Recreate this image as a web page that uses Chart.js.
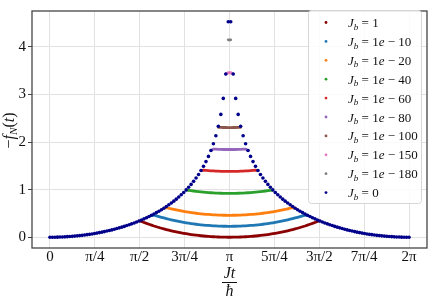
<!DOCTYPE html>
<html>
<head>
<meta charset="utf-8">
<script src="https://cdn.jsdelivr.net/npm/chart.js@4.4.0/dist/chart.umd.min.js"></script>
<style>
  html, body { margin: 0; padding: 0; background: #fff; }
</style>
</head>
<body>
<canvas id="chart" width="431" height="299"></canvas>
<script>
// ---------- data ----------
// x is the sample index of Jt/hbar on [0, 2pi] (146 samples, index 0..145)
const N_STEPS = 145;
const xTickLabels = ['0', 'π/4', 'π/2', '3π/4', 'π', '5π/4', '3π/2', '7π/4', '2π'];
const yTicks = [0, 1, 2, 3, 4];

const legendValues = ['1', '1e-10', '1e-20', '1e-40', '1e-60', '1e-80', '1e-100', '1e-150', '1e-180', '0'];
const seriesColors = ['#8b0000', '#1f77b4', '#ff7f0e', '#2ca02c', '#d62728', '#9467bd', '#8c564b', '#e377c2', '#7f7f7f', '#00008b'];

// J_b = 0, every sample
const jb0 = [
  0.000, 0.000, 0.001, 0.002, 0.004, 0.006, 0.008, 0.012, 0.015, 0.019,
  0.024, 0.029, 0.034, 0.040, 0.047, 0.054, 0.061, 0.069, 0.078, 0.087,
  0.097, 0.107, 0.118, 0.130, 0.142, 0.154, 0.168, 0.182, 0.197, 0.212,
  0.228, 0.245, 0.262, 0.281, 0.300, 0.320, 0.341, 0.363, 0.386, 0.410,
  0.435, 0.461, 0.488, 0.517, 0.546, 0.578, 0.610, 0.645, 0.681, 0.719,
  0.758, 0.800, 0.845, 0.892, 0.941, 0.994, 1.050, 1.110, 1.174, 1.244,
  1.319, 1.400, 1.489, 1.588, 1.698, 1.822, 1.964, 2.130, 2.330, 2.580,
  2.916, 3.427, 4.525,
  4.525, 3.427, 2.916,
  2.580, 2.330, 2.130, 1.964, 1.822, 1.698, 1.588, 1.489, 1.400, 1.319,
  1.244, 1.174, 1.110, 1.050, 0.994, 0.941, 0.892, 0.845, 0.800, 0.758,
  0.719, 0.681, 0.645, 0.610, 0.578, 0.546, 0.517, 0.488, 0.461, 0.435,
  0.410, 0.386, 0.363, 0.341, 0.320, 0.300, 0.281, 0.262, 0.245, 0.228,
  0.212, 0.197, 0.182, 0.168, 0.154, 0.142, 0.130, 0.118, 0.107, 0.097,
  0.087, 0.078, 0.069, 0.061, 0.054, 0.047, 0.040, 0.034, 0.029, 0.024,
  0.019, 0.015, 0.012, 0.008, 0.006, 0.004, 0.002, 0.001, 0.000, 0.000
];

// the J_b != 0 curves, only where they leave the J_b = 0 curve
const jb1Start = 36;
const jb1 = [
  0.341, 0.331, 0.310, 0.290, 0.272, 0.254, 0.236, 0.220, 0.204, 0.189,
  0.175, 0.161, 0.148, 0.136, 0.124, 0.113, 0.102, 0.092, 0.083, 0.074,
  0.065, 0.057, 0.050, 0.043, 0.037, 0.031, 0.026, 0.021, 0.017, 0.013,
  0.010, 0.007, 0.005, 0.003, 0.001, 0.001, 0.000,
  0.000, 0.001, 0.001, 0.003, 0.005, 0.007, 0.010, 0.013, 0.017, 0.021,
  0.026, 0.031, 0.037, 0.043, 0.050, 0.057, 0.065, 0.074, 0.083, 0.092,
  0.102, 0.113, 0.124, 0.136, 0.148, 0.161, 0.175, 0.189, 0.204, 0.220,
  0.236, 0.254, 0.272, 0.290, 0.310, 0.331, 0.341
];
const jb10Start = 41;
const jb10 = [
  0.461, 0.466, 0.450, 0.434, 0.419, 0.405, 0.391, 0.378, 0.366, 0.354,
  0.343, 0.332, 0.322, 0.313, 0.304, 0.295, 0.287, 0.280, 0.273, 0.267,
  0.261, 0.256, 0.251, 0.247, 0.243, 0.240, 0.237, 0.235, 0.233, 0.231,
  0.231, 0.230,
  0.230, 0.231, 0.231, 0.233, 0.235, 0.237, 0.240, 0.243, 0.247, 0.251,
  0.256, 0.261, 0.267, 0.273, 0.280, 0.287, 0.295, 0.304, 0.313, 0.322,
  0.332, 0.343, 0.354, 0.366, 0.378, 0.391, 0.405, 0.419, 0.434, 0.450,
  0.466, 0.461
];
const jb20Start = 46;
const jb20 = [
  0.610, 0.622, 0.609, 0.597, 0.585, 0.574, 0.563, 0.553, 0.544, 0.535,
  0.526, 0.518, 0.511, 0.504, 0.498, 0.492, 0.487, 0.482, 0.478, 0.474,
  0.471, 0.468, 0.466, 0.464, 0.462, 0.462, 0.461,
  0.461, 0.462, 0.462, 0.464, 0.466, 0.468, 0.471, 0.474, 0.478, 0.482,
  0.487, 0.492, 0.498, 0.504, 0.511, 0.518, 0.526, 0.535, 0.544, 0.553,
  0.563, 0.574, 0.585, 0.597, 0.609, 0.622, 0.610
];
const jb40Start = 55;
const jb40 = [
  0.988, 0.986, 0.978, 0.971, 0.964, 0.958, 0.952, 0.947, 0.942, 0.938,
  0.934, 0.931, 0.928, 0.926, 0.924, 0.922, 0.922, 0.921,
  0.921, 0.922, 0.922, 0.924, 0.926, 0.928, 0.931, 0.934, 0.938, 0.942,
  0.947, 0.952, 0.958, 0.964, 0.971, 0.978, 0.986, 0.988
];
const jb60Start = 61;
const jb60 = [
  1.398, 1.408, 1.403, 1.399, 1.395, 1.392, 1.389, 1.387, 1.385, 1.383, 1.383, 1.382,
  1.382, 1.383, 1.383, 1.385, 1.387, 1.389, 1.392, 1.395, 1.399, 1.403, 1.408, 1.398
];
const jb80Start = 65;
const jb80 = [
  1.822, 1.852, 1.849, 1.847, 1.845, 1.843, 1.843, 1.842,
  1.842, 1.843, 1.843, 1.845, 1.847, 1.849, 1.852, 1.822
];
const jb100Start = 68;
const jb100 = [2.307, 2.306, 2.304, 2.304, 2.303, 2.303, 2.304, 2.304, 2.306, 2.307];
const jb150Start = 71;
const jb150 = [3.426, 3.454, 3.454, 3.426];
const jb180Start = 72;
const jb180 = [4.145, 4.145];

// ---------- helpers ----------
const pts = (start, ys) => ys.map((y, i) => ({ x: start + i, y: y }));
const SERIF = '"Liberation Serif", "DejaVu Serif", serif';
const AXIS_COLOR = '#454545';

const curves = [
  [jb1Start, jb1], [jb10Start, jb10], [jb20Start, jb20], [jb40Start, jb40], [jb60Start, jb60],
  [jb80Start, jb80], [jb100Start, jb100], [jb150Start, jb150], [jb180Start, jb180]
];

const datasets = curves.map((c, i) => ({
  label: 'J_b=' + legendValues[i],
  data: pts(c[0], c[1]),
  showLine: true,
  borderColor: seriesColors[i],
  backgroundColor: seriesColors[i],
  borderWidth: 2.8,
  borderCapStyle: 'round',
  pointRadius: 0,
  order: 1
}));
datasets.push({
  label: 'J_b=0',
  data: pts(0, jb0),
  showLine: false,
  pointRadius: 1.8,
  pointBorderWidth: 0,
  pointBackgroundColor: seriesColors[9],
  backgroundColor: seriesColors[9],
  order: 0
});

// draw a run of [text, style] pieces from x on baseline y
function drawPieces(ctx, pieces, x, y, size) {
  pieces.forEach(p => {
    const [txt, style] = p;
    const sub = style === 'sub';
    const fs = sub ? size * 0.7 : size;
    ctx.font = (style === 'n' ? '' : 'italic ') + fs + 'px ' + SERIF;
    ctx.fillText(txt, x, sub ? y + size * 0.2 : y);
    x += ctx.measureText(txt).width;
  });
  return x;
}
function piecesWidth(ctx, pieces, size) {
  let w = 0;
  pieces.forEach(p => {
    const fs = p[1] === 'sub' ? size * 0.7 : size;
    ctx.font = (p[1] === 'n' ? '' : 'italic ') + fs + 'px ' + SERIF;
    w += ctx.measureText(p[0]).width;
  });
  return w;
}
function legendPieces(v) {
  const out = [['J', 'i'], ['b', 'sub'], [' = ', 'n']];
  const m = v.match(/^(\d+)e-(\d+)$/);
  if (m) out.push([m[1], 'n'], ['e', 'i'], [' − ' + m[2], 'n']);
  else out.push([v, 'n']);
  return out;
}

const decorations = {
  id: 'decorations',
  afterDraw(chart) {
    const ctx = chart.ctx;
    const a = chart.chartArea;
    ctx.save();
    // frame
    ctx.strokeStyle = AXIS_COLOR;
    ctx.lineWidth = 1.3;
    ctx.strokeRect(a.left, a.top, a.right - a.left, a.bottom - a.top);

    ctx.fillStyle = '#111';
    ctx.textBaseline = 'alphabetic';

    // x label: Jt over hbar
    const cx = (a.left + a.right) / 2;
    ctx.textAlign = 'center';
    ctx.font = 'italic 16px ' + SERIF;
    ctx.fillText('Jt', cx, 278);
    ctx.fillText('ħ', cx, 296);
    ctx.strokeStyle = '#111';
    ctx.lineWidth = 1;
    ctx.beginPath();
    ctx.moveTo(cx - 7.5, 282.5);
    ctx.lineTo(cx + 7.5, 282.5);
    ctx.stroke();

    // y label: -f_N(t)
    ctx.textAlign = 'left';
    const yl = [['−', 'n'], ['f', 'i'], ['N', 'sub'], ['(', 'n'], ['t', 'i'], [')', 'n']];
    const yw = piecesWidth(ctx, yl, 16);
    ctx.translate(14, (a.top + a.bottom) / 2 + 1);
    ctx.rotate(-Math.PI / 2);
    drawPieces(ctx, yl, -yw / 2, 0, 16);
    ctx.setTransform(1, 0, 0, 1, 0, 0);

    // legend
    const L = { x: 308.5, y: 10.5, w: 113, h: 193, row0: 22.5, step: 18.9, mark: 326, text: 348 };
    ctx.fillStyle = 'rgba(255,255,255,0.85)';
    ctx.strokeStyle = '#d6d6d6';
    ctx.lineWidth = 1;
    ctx.beginPath();
    ctx.roundRect(L.x, L.y, L.w, L.h, 3);
    ctx.fill();
    ctx.stroke();
    legendValues.forEach((v, i) => {
      const y = L.row0 + i * L.step;
      ctx.fillStyle = seriesColors[i];
      ctx.beginPath();
      ctx.arc(L.mark, y, 1.4, 0, Math.PI * 2);
      ctx.fill();
      ctx.fillStyle = '#111';
      drawPieces(ctx, legendPieces(v), L.text, y + 4.5, 13);
    });
    ctx.restore();
  }
};

new Chart(document.getElementById('chart'), {
  type: 'scatter',
  data: { datasets: datasets },
  options: {
    responsive: false,
    animation: false,
    layout: { padding: { top: 4, right: 3, left: 0, bottom: 0 } },
    plugins: { legend: { display: false }, tooltip: { enabled: false } },
    scales: {
      x: {
        type: 'linear',
        min: -0.05 * N_STEPS,
        max: 1.05 * N_STEPS,
        afterFit: s => { s.height = 51; },
        afterBuildTicks: s => { s.ticks = xTickLabels.map((_, i) => ({ value: i * N_STEPS / 8 })); },
        grid: { color: '#e2e2e2', lineWidth: 1, drawTicks: false },
        border: { display: false },
        ticks: {
          autoSkip: false, maxRotation: 0, padding: 0, color: '#111',
          font: { family: SERIF, size: 15, lineHeight: 1.2 },
          callback: (v, i) => xTickLabels[i]
        }
      },
      y: {
        min: -0.226,
        max: 4.751,
        afterFit: s => { s.width = 32; },
        afterBuildTicks: s => { s.ticks = yTicks.map(v => ({ value: v })); },
        grid: { color: '#e2e2e2', lineWidth: 1, drawTicks: true, tickLength: 4, tickColor: AXIS_COLOR },
        border: { display: false },
        ticks: {
          padding: 2, color: '#111',
          font: { family: SERIF, size: 15 },
          callback: v => String(v)
        }
      }
    }
  },
  plugins: [decorations]
});
</script>
</body>
</html>
